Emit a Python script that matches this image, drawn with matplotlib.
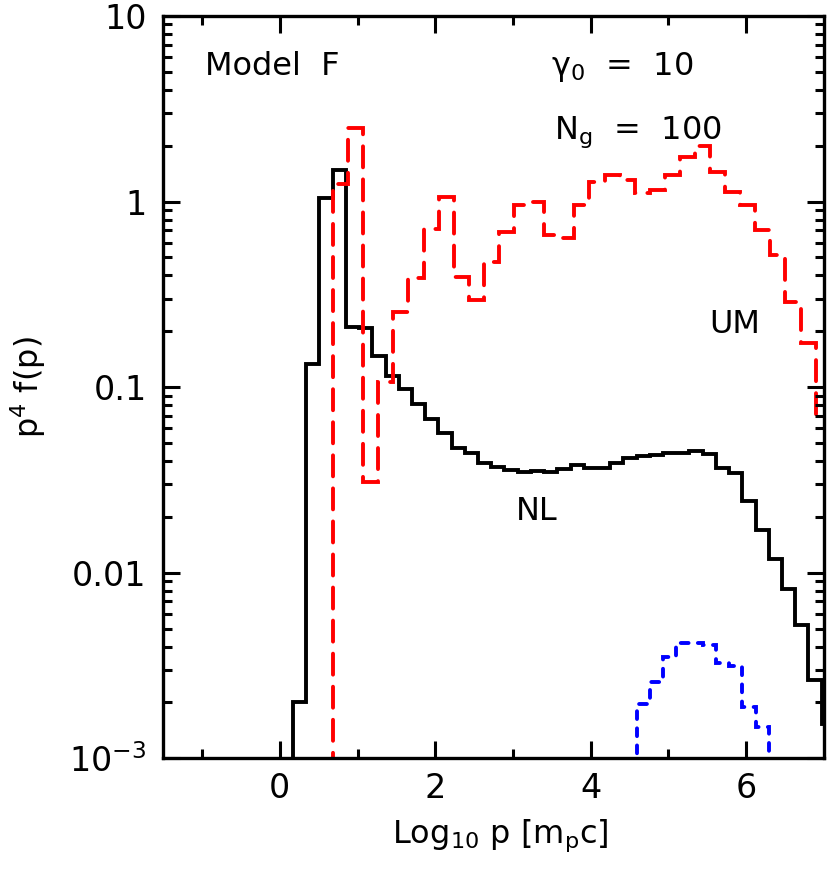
import numpy as np
import matplotlib
matplotlib.use("Agg")
import matplotlib.pyplot as plt

# NL (non-linear) spectrum, solid black; bins of width 0.17 in log10 p
nl_lo, nl_dp = 0.17, 0.17
nl_vals = [0.00202, 0.133, 1.04, 1.48, 0.212, 0.207, 0.147, 0.115, 0.0975, 0.081,
           0.0675, 0.0565, 0.0469, 0.0441, 0.0392, 0.0370, 0.0358, 0.0348, 0.0355,
           0.0348, 0.0361, 0.0381, 0.0368, 0.0368, 0.0392, 0.0414, 0.0423, 0.0430,
           0.0441, 0.0444, 0.0455, 0.0436, 0.0367, 0.0346, 0.0242, 0.0169, 0.0118,
           0.00814, 0.00523, 0.00264, 0.00153]

# UM (unmodified) spectrum, red dashed
um_lo, um_dp = 0.685, 0.194
um_vals = [1.24, 2.48, 0.031, 0.107, 0.255, 0.385, 0.71, 1.055, 0.394, 0.295,
           0.474, 0.689, 0.959, 1.0, 0.661, 0.634, 0.959, 1.28, 1.39, 1.31,
           1.11, 1.155, 1.39, 1.745, 1.98, 1.45, 1.13, 0.959, 0.703, 0.515,
           0.289, 0.172, 0.070]

# escaping / third component, blue dotted (same grid as NL)
bl_lo = 4.59
bl_vals = [0.00196, 0.00259, 0.00353, 0.00417, 0.0042, 0.00408, 0.00328,
           0.00315, 0.0019, 0.00148]

xticks = [0, 2, 4, 6]
yticks = [1e-3, 1e-2, 0.1, 1, 10]
ytick_labels = ["$10^{-3}$", "0.01", "0.1", "1", "10"]

plt.rcParams["mathtext.fontset"] = "dejavusans"
plt.rcParams["mathtext.default"] = "regular"
plt.rcParams["font.family"] = ["DejaVu Sans"]

fig = plt.figure(figsize=(8.3, 8.72), dpi=100)
ax = fig.add_axes([0.1967, 0.1304, 0.796, 0.8513])

lw = 2.8
base = 1e-6
nl_edges = nl_lo + nl_dp * np.arange(len(nl_vals) + 1)
um_edges = um_lo + um_dp * np.arange(len(um_vals) + 1)
bl_edges = bl_lo + nl_dp * np.arange(len(bl_vals) + 1)

ax.stairs(nl_vals, nl_edges, baseline=base, color="black", lw=lw,
          joinstyle="miter")
ax.stairs(um_vals, um_edges, baseline=base, color="#ff0000", lw=lw,
          linestyle=(0, (5.4, 3.1)), capstyle="round")
ax.stairs(bl_vals, bl_edges, baseline=base, color="#0000ff", lw=lw,
          linestyle=(0, (2.0, 2.4)), capstyle="round")

ax.set_yscale("log")
ax.set_xlim(-1.5, 7.0)
ax.set_ylim(1e-3, 10)

ax.set_xticks(xticks)
ax.set_xticks([-1, 1, 3, 5], minor=True)
ax.set_yticks(yticks)
ax.set_yticklabels(ytick_labels)
ax.yaxis.set_minor_locator(matplotlib.ticker.LogLocator(base=10, subs=np.arange(2, 10)))
ax.yaxis.set_minor_formatter(matplotlib.ticker.NullFormatter())

ax.tick_params(which="both", direction="in", top=True, right=True, width=2.2,
               labelsize=24, color="black")
ax.tick_params(which="major", length=12.5)
ax.tick_params(which="minor", length=6.5)
ax.tick_params(axis="x", which="both", pad=10)
ax.tick_params(axis="y", which="both", pad=12)
for sp in ax.spines.values():
    sp.set_linewidth(2.4)

ax.set_xlabel(r"Log$_{10}$ p [m$_p$c]", fontsize=23)
ax.set_ylabel(r"p$^4$ f(p)", fontsize=23)
ax.xaxis.set_label_coords(0.51, -0.08)
ax.yaxis.set_label_coords(-0.1745, 0.5)

ax.text(-0.96, 4.81, "Model  F", fontsize=23, va="baseline")
ax.text(3.49, 4.81, r"$\gamma_0$  =  10", fontsize=23, va="baseline")
ax.text(3.53, 2.19, r"N$_g$  =  100", fontsize=23, va="baseline")
ax.text(5.53, 0.196, "UM", fontsize=23, va="baseline")
ax.text(3.04, 0.0192, "NL", fontsize=23, va="baseline")

fig.savefig("out.png", dpi=100)
